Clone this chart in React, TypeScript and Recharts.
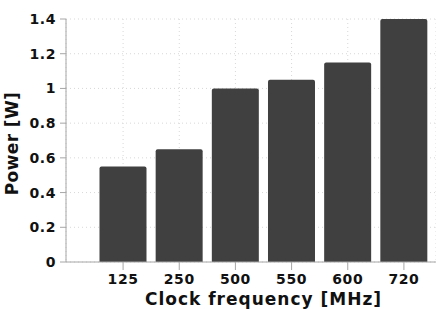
import React from 'react';
import { BarChart, Bar, XAxis, YAxis, CartesianGrid, Label } from 'recharts';

const FREQUENCIES = ['125', '250', '500', '550', '600', '720'];
const POWER_W = [0.55, 0.65, 1.0, 1.05, 1.15, 1.4];
const Y_TICKS = [0, 0.2, 0.4, 0.6, 0.8, 1, 1.2, 1.4];

const FONT = '"DejaVu Sans", Verdana, sans-serif';
const AXIS_COLOR = '#a6a6a6';
const BAR_COLOR = '#404040';

const data = FREQUENCIES.map((f, i) => ({ freq: f, power: POWER_W[i] }));

const tickStyle = { fill: '#111', fontSize: 14, fontWeight: 700, fontFamily: FONT, letterSpacing: 0.6 };

const YTitle = ({ viewBox }: any) => {
  const cx = viewBox.x + 12;
  const cy = viewBox.y + viewBox.height / 2 + 3;
  return (
    <text x={cx} y={cy} transform={`rotate(-90 ${cx} ${cy})`} textAnchor="middle" dominantBaseline="central"
      style={{ fontFamily: FONT, fontSize: 17, fontWeight: 700, fill: '#111', letterSpacing: 0.4 }}>
      Power [W]
    </text>
  );
};

const XTitle = ({ viewBox }: any) => {
  const cx = viewBox.x + 29 + (viewBox.width - 33) / 2;
  const cy = viewBox.y + 37;
  return (
    <text x={cx} y={cy} textAnchor="middle" dominantBaseline="central"
      style={{ fontFamily: FONT, fontSize: 17, fontWeight: 700, fill: '#111', letterSpacing: 1 }}>
      Clock frequency [MHz]
    </text>
  );
};

export default function App() {
  return (
    <div style={{ position: 'absolute', left: 0, top: 0, width: 436, height: 309, background: '#fff' }}>
      <BarChart width={436} height={309} data={data} margin={{ top: 19, right: 0, bottom: 0, left: 0 }} barCategoryGap="8%">
        <CartesianGrid stroke="#d8d8d8" strokeDasharray="1 3" />
        <XAxis dataKey="freq" height={47} padding={{ left: 29, right: 4 }} stroke={AXIS_COLOR}
          tickSize={8} tickMargin={4} tick={tickStyle} axisLine={{ stroke: AXIS_COLOR }} tickLine={{ stroke: AXIS_COLOR }}>
          <Label content={<XTitle />} />
        </XAxis>
        <YAxis width={66} domain={[0, 1.4]} ticks={Y_TICKS} interval={0} stroke={AXIS_COLOR}
          tickSize={6} tickMargin={4} tick={tickStyle} axisLine={{ stroke: AXIS_COLOR }} tickLine={{ stroke: AXIS_COLOR }}>
          <Label content={<YTitle />} />
        </YAxis>
        <Bar dataKey="power" fill={BAR_COLOR} radius={[2, 2, 0, 0]} isAnimationActive={false} />
      </BarChart>
    </div>
  );
}
